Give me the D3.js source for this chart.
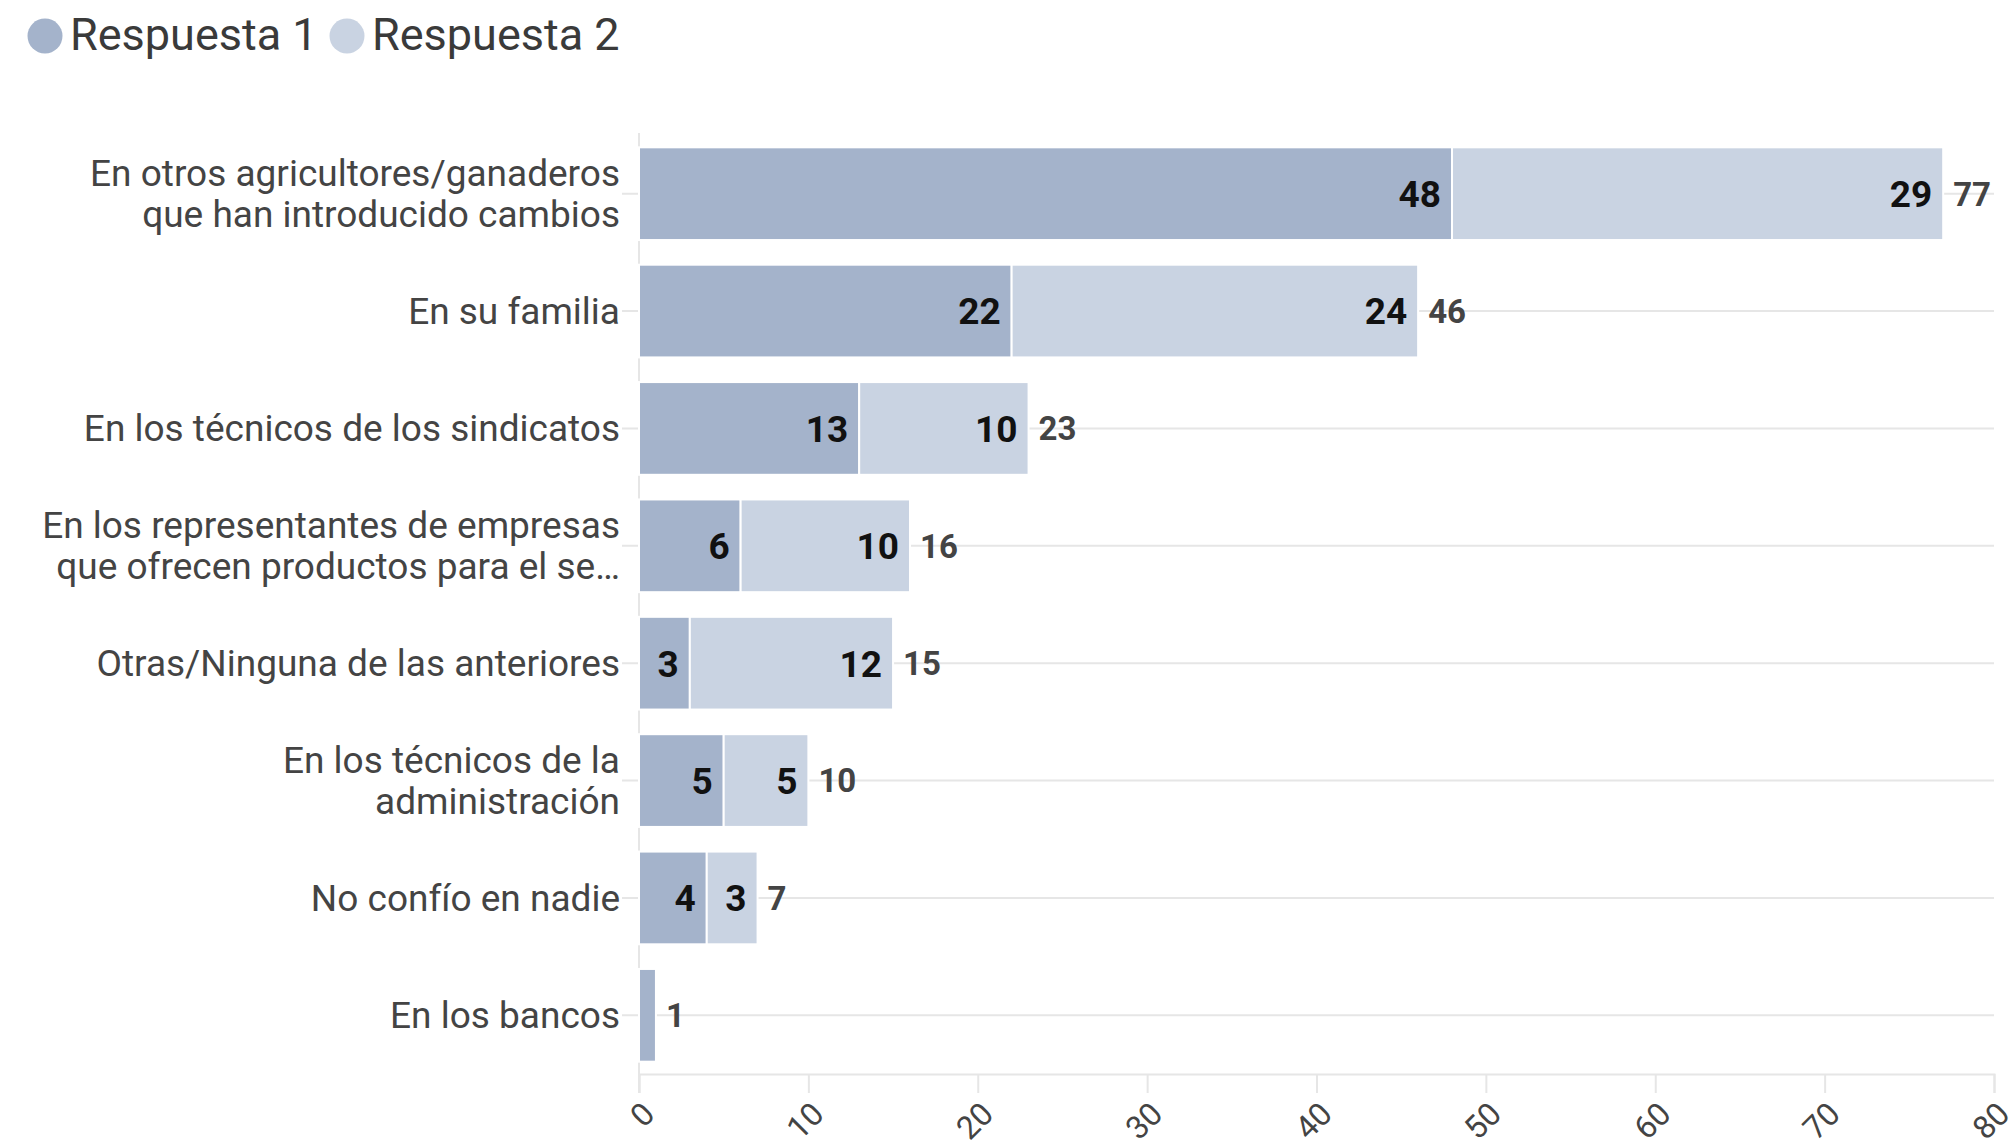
<!DOCTYPE html>
<html>
<head>
<meta charset="utf-8">
<script src="https://cdn.jsdelivr.net/npm/d3@7"></script>
<style>
  body { margin: 0; background: #fff; }
  text { font-family: Roboto, "Noto Sans", sans-serif; }
</style>
</head>
<body>
<svg id="chart"></svg>
<script>
const categories = [
  "En otros agricultores/ganaderos|que han introducido cambios",
  "En su familia",
  "En los técnicos de los sindicatos",
  "En los representantes de empresas|que ofrecen productos para el se…",
  "Otras/Ninguna de las anteriores",
  "En los técnicos de la|administración",
  "No confío en nadie",
  "En los bancos"
];
const respuesta1 = [48, 22, 13, 6, 3, 5, 4, 1];
const respuesta2 = [29, 24, 10, 10, 12, 5, 3, 0];
const seriesNames = ["Respuesta 1", "Respuesta 2"];
const xTicks = [0, 10, 20, 30, 40, 50, 60, 70, 80];

const width = 2013, height = 1147;
const colors = ["#a4b3cb", "#c9d3e2"];
const gridColor = "#e6e6e6", textColor = "#444";

const svg = d3.select("#chart").attr("width", width).attr("height", height);

// legend
const legend = svg.append("g");
const legendX = [45, 347];
seriesNames.forEach((name, i) => {
  legend.append("circle")
    .attr("cx", legendX[i]).attr("cy", 36).attr("r", 17.5)
    .attr("fill", colors[i]);
  legend.append("text")
    .attr("x", legendX[i] + 25).attr("y", 50)
    .style("font-size", "45px").attr("fill", "#3a3a3a")
    .text(name);
});

// scales
const x = d3.scaleLinear().domain([0, 80]).range([639, 1994]);
const y = d3.scaleBand().domain(categories).range([135, 1074])
  .paddingInner(0.21).paddingOuter(0.105);

// horizontal grid lines at band centres (y-axis ticks extended)
svg.append("g")
  .selectAll("line")
  .data(categories)
  .enter()
  .append("line")
  .attr("x1", x(0) - 17).attr("x2", x(80))
  .attr("y1", d => y(d) + y.bandwidth() / 2)
  .attr("y2", d => y(d) + y.bandwidth() / 2)
  .attr("stroke", gridColor).attr("stroke-width", 2);

// x axis
const xAxis = svg.append("g")
  .attr("transform", `translate(0, 1074)`)
  .call(d3.axisBottom(x).tickValues(xTicks).tickSize(19));
xAxis.select(".domain").attr("stroke", gridColor).attr("stroke-width", 2);
xAxis.selectAll(".tick line").attr("stroke", gridColor).attr("stroke-width", 2);
xAxis.selectAll(".tick text")
  .style("font-size", "32px").style("font-family", "Roboto, sans-serif")
  .attr("fill", textColor)
  .attr("text-anchor", "end")
  .attr("x", 0).attr("y", 0)
  .attr("dy", "0.35em")
  .attr("transform", "translate(9, 34) rotate(-45)");

// left axis line
svg.append("line")
  .attr("x1", x(0)).attr("x2", x(0))
  .attr("y1", 133).attr("y2", 1093)
  .attr("stroke", gridColor).attr("stroke-width", 2);

// category labels
svg.append("g")
  .selectAll("text")
  .data(categories)
  .enter()
  .append("text")
  .attr("text-anchor", "end")
  .style("font-size", "37px")
  .attr("fill", textColor)
  .each(function (d) {
    const lines = d.split("|");
    const cy = y(d) + y.bandwidth() / 2;
    const lh = 41;
    lines.forEach((ln, i) => {
      d3.select(this).append("tspan")
        .attr("x", 620)
        .attr("y", cy + (i - (lines.length - 1) / 2) * lh)
        .attr("dy", "0.35em")
        .text(ln);
    });
  });

// stacked bars
const rows = categories.map((c, i) => ({ cat: c, a: respuesta1[i], b: respuesta2[i] }));
const bars = svg.append("g");
rows.forEach(r => {
  const segs = [
    { x0: 0, x1: r.a, v: r.a, c: colors[0] },
    { x0: r.a, x1: r.a + r.b, v: r.b, c: colors[1] }
  ];
  segs.forEach(s => {
    if (s.v <= 0) return;
    bars.append("rect")
      .attr("x", x(s.x0)).attr("y", y(r.cat))
      .attr("width", x(s.x1) - x(s.x0)).attr("height", y.bandwidth())
      .attr("fill", s.c).attr("stroke", "#fff").attr("stroke-width", 2);
    if (x(s.x1) - x(s.x0) > 30) {
      bars.append("text")
        .attr("x", x(s.x1) - 11)
        .attr("y", y(r.cat) + y.bandwidth() / 2)
        .attr("dy", "0.36em")
        .attr("text-anchor", "end")
        .style("font-size", "37px").style("font-weight", "bold")
        .attr("fill", "#111")
        .text(s.v);
    }
  });
  bars.append("text")
    .attr("x", x(r.a + r.b) + 10)
    .attr("y", y(r.cat) + y.bandwidth() / 2)
    .attr("dy", "0.36em")
    .style("font-size", "33px").style("font-weight", "bold")
    .attr("fill", "#444")
    .text(r.a + r.b);
});
</script>
</body>
</html>
